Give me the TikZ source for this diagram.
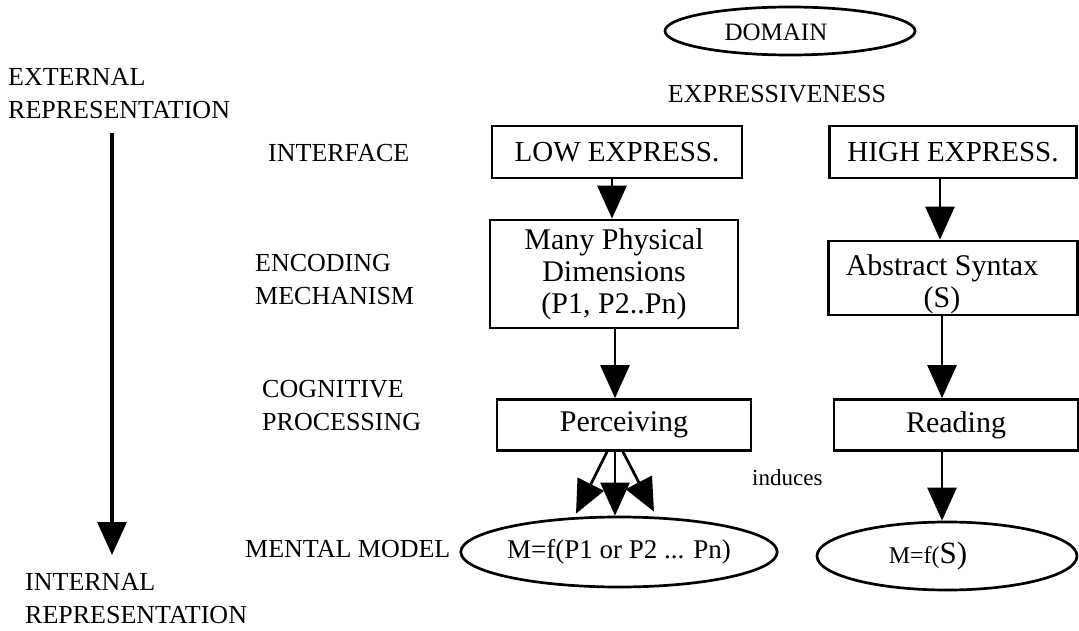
\documentclass[tikz,border=0pt]{standalone}
\usepackage{fontspec}
\setmainfont{Liberation Serif}
\usetikzlibrary{arrows.meta,calc,shapes.geometric}
\begin{document}
\begin{tikzpicture}[x=1pt,y=-1pt,
  box/.style={draw,line width=2.7pt,inner sep=0pt,align=center},
  oval/.style={draw,ellipse,line width=2.7pt,inner sep=0pt},
  arr/.style={line width=2.7pt,-{Triangle[length=33pt,width=29pt]}},
  lbl/.style={anchor=west,align=left,inner sep=0pt,font=\fontsize{26}{33}\selectfont},
  big/.style={font=\fontsize{30}{32}\selectfont},
  mid/.style={font=\fontsize{29}{32}\selectfont}]
\useasboundingbox (0,0) rectangle (1079,631);

% left axis
\node[lbl] (ext) at (8,94) {EXTERNAL\\REPRESENTATION};
\node[lbl] (int) at (25,599) {INTERNAL\\REPRESENTATION};
\coordinate (axtop) at (112,133);
\coordinate (axbot) at (112,555);
\draw[arr,line width=3.2pt] (axtop) -- (axbot);

% level labels
\node[lbl] (lint) at (268,153) {INTERFACE};
\node[lbl] (lenc) at (255,280) {ENCODING\\MECHANISM};
\node[lbl] (lcog) at (262,406) {COGNITIVE\\PROCESSING};
\node[lbl] (lmen) at (245,549) {MENTAL MODEL};

% top
\node[oval,minimum width=250pt,minimum height=48pt] (domain) at (790,31) {};
\node[font=\fontsize{25}{30}\selectfont] (domaintxt) at (776,32) {DOMAIN};
\node[font=\fontsize{26}{30}\selectfont] (expr) at (777,94) {EXPRESSIVENESS};

% boxes
\node[box,mid,minimum width=250pt,minimum height=52pt] (low) at (617,152) {LOW EXPRESS.};
\node[box,mid,minimum width=247pt,minimum height=52pt] (high) at (953,152) {HIGH EXPRESS.};
\node[box,big,minimum width=248pt,minimum height=108pt] (many) at (614,274) {Many Physical\\Dimensions\\(P1, P2..Pn)};
\node[box,minimum width=249pt,minimum height=74pt] (abs) at (953,278) {};
\node[big,align=center,inner sep=0pt] (abstxt) at (942,284) {Abstract Syntax\\(S)};
\node[box,big,minimum width=254pt,minimum height=51pt] (perc) at (624,425) {Perceiving};
\node[box,big,minimum width=244pt,minimum height=51pt] (read) at (956,425) {Reading};

% mental models
\node[oval,minimum width=262pt,minimum height=70pt,font=\fontsize{27}{30}\selectfont] (m1) at (619,552) {M=f(P1 or P2 ... Pn)};
\node[oval,minimum width=260pt,minimum height=68pt] (m2) at (947,556) {};
\node[inner sep=0pt] (m2txt) at (928,556) {\fontsize{24}{30}\selectfont M=f(\fontsize{31}{30}\selectfont S)};
\node[font=\fontsize{23}{26}\selectfont,anchor=west,inner sep=0pt] (ind) at (752,478) {induces};

% connectors
\draw[arr] (low.south -| 612,0) -- (many.north -| 612,0);
\draw[arr] (many.south -| 615,0) -- (perc.north -| 615,0);
\draw[arr] (high.south -| 940,0) -- (abs.north -| 940,0);
\draw[arr] (abs.south -| 942,0) -- (read.north -| 942,0);
\draw[arr] (read.south -| 942,0) -- (m2.north -| 942,0);
\draw[arr] ($(perc.south)+(-17,0)$) -- ($(m1.north)+(-43,-2)$);
\draw[arr] ($(perc.south)+(-9,0)$) -- ($(m1.north)+(-4,0)$);
\draw[arr] ($(perc.south)+(-1,0)$) -- ($(m1.north)+(35,-4)$);
\end{tikzpicture}
\end{document}
